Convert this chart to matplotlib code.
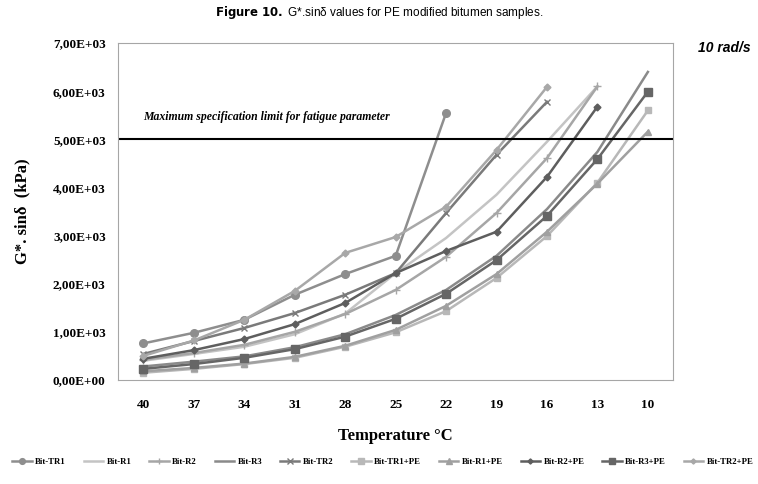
import numpy as np
import matplotlib
matplotlib.use("Agg")
import matplotlib.pyplot as plt
from matplotlib.ticker import FuncFormatter

nan = np.nan

# test temperatures (deg C), plotted as categories from hot to cold
temps = ["40", "37", "34", "31", "28", "25", "22", "19", "16", "13", "10"]

bit_tr1 = [760, 980, 1250, 1770, 2200, 2580, 5550, nan, nan, nan, nan]
bit_r1 = [400, 540, 690, 950, 1380, 2220, 2950, 3850, 4950, 6100, nan]
bit_r2 = [420, 560, 730, 1000, 1370, 1870, 2560, 3470, 4610, 6100, nan]
bit_r3 = [280, 380, 490, 680, 950, 1350, 1870, 2580, 3550, 4740, 6400]
bit_tr2 = [540, 810, 1080, 1390, 1770, 2220, 3470, 4680, 5780, nan, nan]
bit_tr1_pe = [150, 230, 330, 460, 690, 990, 1430, 2120, 2990, 4100, 5600]
bit_r1_pe = [180, 250, 340, 480, 710, 1040, 1540, 2200, 3080, 4080, 5160]
bit_r2_pe = [440, 620, 850, 1160, 1600, 2220, 2680, 3080, 4220, 5680, nan]
bit_r3_pe = [230, 330, 460, 640, 900, 1270, 1790, 2490, 3410, 4590, 5990]
bit_tr2_pe = [500, 820, 1250, 1850, 2640, 2970, 3600, 4780, 6090, nan, nan]

fatigue_limit = 5000

series = [
    ("Bit-TR1", bit_tr1, "#8e8e8e", "o", 5.5),
    ("Bit-R1", bit_r1, "#c4c4c4", None, 0),
    ("Bit-R2", bit_r2, "#a6a6a6", "+", 6),
    ("Bit-R3", bit_r3, "#8a8a8a", None, 0),
    ("Bit-TR2", bit_tr2, "#7a7a7a", "x", 5),
    ("Bit-TR1+PE", bit_tr1_pe, "#b8b8b8", "s", 5),
    ("Bit-R1+PE", bit_r1_pe, "#a0a0a0", "^", 5),
    ("Bit-R2+PE", bit_r2_pe, "#5e5e5e", "D", 3.5),
    ("Bit-R3+PE", bit_r3_pe, "#666666", "s", 6),
    ("Bit-TR2+PE", bit_tr2_pe, "#a8a8a8", "D", 3.5),
]

serif = "Liberation Serif"
sans = "Liberation Sans"

fig = plt.figure(figsize=(7.58, 4.84), dpi=100)
ax = fig.add_axes([0.156, 0.215, 0.732, 0.696])

x = np.arange(len(temps))
for name, vals, col, mk, ms in series:
    ax.plot(x, vals, color=col, lw=1.8, marker=mk, markersize=ms,
            markeredgewidth=1.0, markeredgecolor=col, markerfacecolor=col,
            label=name)

ax.axhline(fatigue_limit, color="black", lw=1.5)
ax.text(0.0, 5470, "Maximum specification limit for fatigue parameter",
        va="center", fontfamily=serif, fontweight="bold", fontstyle="italic",
        fontsize=8.5)

ax.set_xlim(-0.5, len(temps) - 0.5)
ax.set_ylim(0, 7000)
ax.set_xticks(x)
ax.set_xticklabels(temps)
ax.set_yticks(np.arange(0, 7001, 1000))
ax.yaxis.set_major_formatter(FuncFormatter(
    lambda v, p: ("%.2E" % v).replace(".", ",")))
ax.tick_params(length=0, pad=14)
ax.tick_params(axis="y", pad=9)
for lab in ax.get_xticklabels() + ax.get_yticklabels():
    lab.set_fontfamily(serif)
    lab.set_fontweight("bold")
    lab.set_fontsize(9.5)
for s in ax.spines.values():
    s.set_color("#a6a6a6")

ax.set_xlabel("Temperature °C", fontfamily=serif, fontweight="bold",
              fontsize=12, labelpad=12)
ax.set_ylabel("G*. sinδ  (kPa)", fontfamily=serif, fontweight="bold",
              fontsize=12, labelpad=16)

fig.text(0.5, 0.975, r"$\bf{Figure\ 10.}$ G*.sinδ values for PE modified bitumen samples.",
         ha="center", va="center", fontfamily=sans, fontsize=8.5)
fig.text(0.99, 0.9, "10 rad/s", ha="right", va="center", fontfamily=sans,
         fontweight="bold", fontstyle="italic", fontsize=10)

leg = fig.legend(loc="center", bbox_to_anchor=(0.505, 0.045), ncol=10,
                 frameon=False, prop={"family": serif, "weight": "bold", "size": 6.3},
                 handlelength=2.2, columnspacing=2.05, handletextpad=0.4,
                 markerscale=0.75, borderpad=0.1, borderaxespad=0.1)

fig.savefig("out.png", dpi=100)
